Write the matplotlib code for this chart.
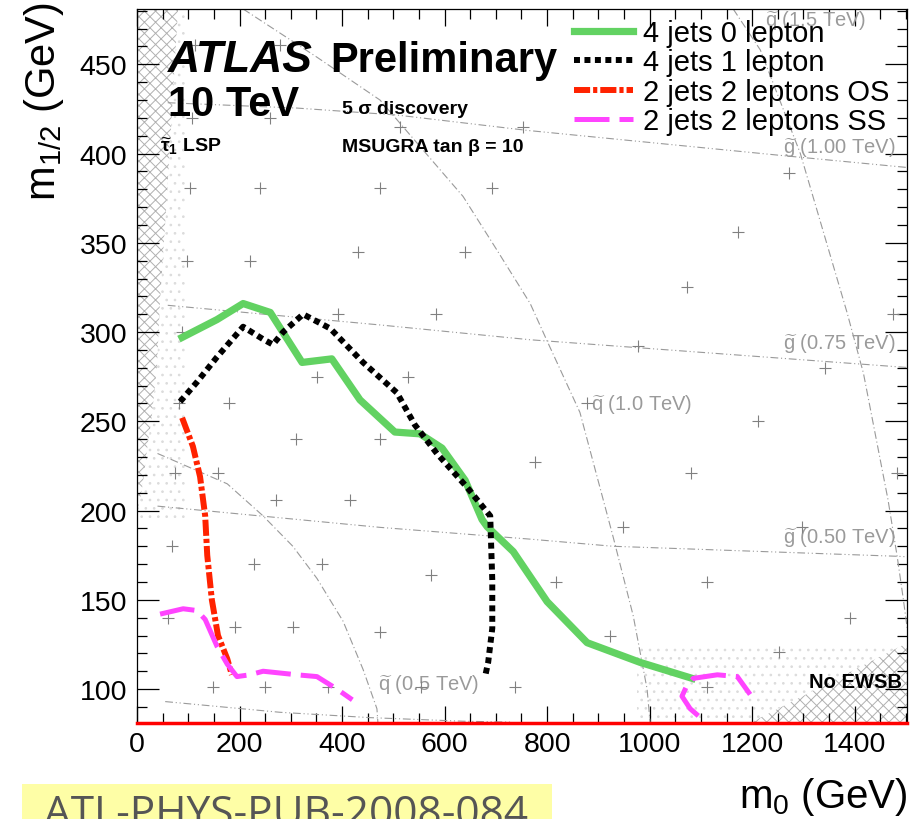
import matplotlib
matplotlib.use("Agg")
import matplotlib.pyplot as plt
from matplotlib.ticker import MultipleLocator
from matplotlib.patches import Rectangle

plt.rcParams['font.family'] = ['Liberation Sans', 'DejaVu Sans']
plt.rcParams['mathtext.fontset'] = 'custom'
plt.rcParams['mathtext.rm'] = 'Liberation Sans'
plt.rcParams['mathtext.it'] = 'Liberation Sans:italic'
plt.rcParams['mathtext.bf'] = 'Liberation Sans:bold'
plt.rcParams['mathtext.default'] = 'regular'
plt.rcParams['hatch.linewidth'] = 0.7

# 5 sigma discovery contours, m0 / m1/2 in GeV
m0_4j0l = [88, 156, 207, 260, 322, 380, 435, 503, 552, 595, 640, 673, 683, 734, 800, 878, 981, 1083]
m12_4j0l = [297, 307, 316, 311, 283, 285, 262, 244, 243, 235, 217, 195, 191, 177, 149, 126, 115, 106]

m0_4j1l = [84, 117, 156, 207, 246, 265, 285, 324, 377, 441, 507, 542, 585, 644, 689, 693, 693, 685, 679]
m12_4j1l = [261, 272, 286, 303, 296, 293, 300, 310, 302, 283, 266, 248, 232, 213, 197, 161, 134, 115, 107]

m0_2j2l_os = [88, 109, 123, 133, 137, 146, 158, 176, 185]
m12_2j2l_os = [252, 236, 219, 197, 175, 150, 130, 117, 108]

m0_2j2l_ss_a = [45, 90, 117, 133, 156, 176, 195, 220, 246, 312, 351, 390, 420]
m12_2j2l_ss_a = [142, 145, 144, 139, 124, 114, 107, 108, 110, 108, 107, 100, 94]
m0_2j2l_ss_b = [1095, 1079, 1063, 1071, 1085, 1132, 1171, 1196]
m12_2j2l_ss_b = [85, 89, 96, 101, 106, 108, 107, 97]

# squark / gluino iso-mass lines
sq05_m0 = [40, 64, 176, 246, 304, 351, 402, 441, 468, 470]
sq05_m12 = [232, 229, 215, 197, 180, 162, 138, 111, 89, 81]
sq10_m0 = [207, 351, 474, 636, 702, 767, 800, 864, 929, 968, 995, 1001]
sq10_m12 = [481, 454, 430, 376, 346, 316, 295, 255, 185, 141, 100, 81]
sq15_m0 = [1163, 1216, 1294, 1385, 1417, 1465, 1483, 1495, 1508]
sq15_m12 = [481, 458, 400, 311, 277, 206, 174, 150, 122]

gl025_m0 = [55, 279, 455, 636, 728]
gl025_m12 = [93, 87, 84, 82, 81.5]
gl050_m0 = [40, 474, 767, 929, 1483, 1510]
gl050_m12 = [202.5, 190.6, 184, 180, 174.4, 174]
gl075_m0 = [60, 474, 767, 1510]
gl075_m12 = [315, 304, 295.7, 280]
gl100_m0 = [60, 312, 507, 761, 1255, 1510]
gl100_m12 = [428.5, 425.5, 421.6, 413, 399, 392]

iso_labels = [r'$\widetilde{q}$ (0.5 TeV)', r'$\widetilde{q}$ (1.0 TeV)', r'$\widetilde{q}$ (1.5 TeV)',
              r'$\widetilde{g}$ (0.50 TeV)', r'$\widetilde{g}$ (0.75 TeV)', r'$\widetilde{g}$ (1.00 TeV)']
iso_label_m0 = [470, 885, 1225, 1260, 1260, 1260]
iso_label_m12 = [102.5, 259.4, 474.5, 185, 294, 403.7]

# scan points
scan_m0 = [113, 279, 107, 259, 513, 753, 1272, 103, 240, 474, 693, 1173, 431, 640, 98, 220,
           1073, 392, 583, 1475, 88, 978, 1342, 351, 529, 82, 180, 878, 1212, 310, 474, 777,
           74, 158, 1081, 1483, 271, 416, 948, 1298, 68, 228, 361, 574, 818, 1112, 60, 1391,
           191, 304, 474, 923, 1253, 148, 250, 373, 554, 738, 1112]
scan_m12 = [461, 461, 420, 420, 415, 415, 389, 381, 381, 381, 381, 356, 345, 345, 340, 340,
            325, 310, 310, 310, 300, 292, 280, 275, 275, 260, 260, 260, 250, 240, 240, 227,
            221, 221, 221, 221, 206, 206, 191, 191, 180, 170, 170, 164, 160, 160, 140, 140,
            135, 135, 132, 130, 121, 101, 101, 101, 101, 101, 101]

# excluded regions
stau_m0 = [0, 80, 58, 45, 39, 29, 19.5, 12, 5, 0]
stau_m12 = [481, 481, 374, 318, 281, 253, 234, 216, 205, 200]
ewsb_m0 = [1196, 1510, 1510]
ewsb_m12 = [81, 81, 127]

W, H = 910, 820
fig = plt.figure(figsize=(W / 100, H / 100), dpi=100)
ax = fig.add_axes([137 / W, (H - 724) / H, 770 / W, 714 / H])
ax.set_xlim(0, 1502)
ax.set_ylim(81, 481)

# light dotted bands and hatched regions
ax.fill([0, 95, 95, 0], [481, 481, 195, 195], facecolor='none', edgecolor='#dcdcdc',
        hatch='..', linewidth=0, zorder=0)
ax.fill([975, 1510, 1510, 975], [81, 81, 124, 124], facecolor='none', edgecolor='#dcdcdc',
        hatch='..', linewidth=0, zorder=0)
ax.fill(stau_m0, stau_m12, facecolor='white', edgecolor='#b0b0b0', hatch='xxx',
        linewidth=0, zorder=1)
ax.fill(ewsb_m0, ewsb_m12, facecolor='white', edgecolor='#b0b0b0', hatch='xxx',
        linewidth=0, zorder=1)

grey = '#9a9a9a'
for xs, ys in [(sq05_m0, sq05_m12), (sq10_m0, sq10_m12), (sq15_m0, sq15_m12)]:
    ax.plot(xs, ys, color=grey, lw=0.8, dashes=(7, 2.5, 1, 2.5), zorder=2)
for xs, ys in [(gl025_m0, gl025_m12), (gl050_m0, gl050_m12), (gl075_m0, gl075_m12),
               (gl100_m0, gl100_m12)]:
    ax.plot(xs, ys, color=grey, lw=0.8, dashes=(7, 2.5, 1, 2.5, 1, 2.5), zorder=2)

for lab, xl, yl in zip(iso_labels, iso_label_m0, iso_label_m12):
    ax.text(xl, yl, lab, color=grey, fontsize=14.5, va='center', ha='left', zorder=3,
            clip_on=True)

ax.plot(scan_m0, scan_m12, ls='none', marker='+', color='#808080', ms=8, mew=0.8, zorder=3)

green = '#62d262'
ax.plot(m0_4j0l, m12_4j0l, color=green, lw=5.2, solid_joinstyle='round',
        label='4 jets 0 lepton', zorder=5)
ax.plot(m0_4j1l, m12_4j1l, color='black', lw=4.3, dashes=(1, 0.75),
        label='4 jets 1 lepton', zorder=6)
ax.plot(m0_2j2l_os, m12_2j2l_os, color='#ff2200', lw=4.3, dashes=(2.7, 0.5, 0.7, 0.5),
        label='2 jets 2 leptons OS', zorder=6)
ax.plot(m0_2j2l_ss_a, m12_2j2l_ss_a, color='#ff44ff', lw=3.6, dashes=(7, 2),
        label='2 jets 2 leptons SS', zorder=6)
ax.plot(m0_2j2l_ss_b, m12_2j2l_ss_b, color='#ff44ff', lw=3.6, dashes=(7, 2), zorder=6)

# red line along the bottom axis
ax.axhline(81, color='#ff0000', lw=2.5, zorder=7, clip_on=False)

ax.legend(loc='upper left', bbox_to_anchor=(574 / W, 1 - 20 / H), bbox_transform=fig.transFigure,
          frameon=False, fontsize=21, handlelength=2.02, handletextpad=0.34,
          labelspacing=0.05, borderpad=0, borderaxespad=0)

ax.xaxis.set_major_locator(MultipleLocator(200))
ax.xaxis.set_minor_locator(MultipleLocator(50))
ax.yaxis.set_major_locator(MultipleLocator(50))
ax.yaxis.set_minor_locator(MultipleLocator(10))
ax.tick_params(which='both', direction='in', top=True, right=True, width=0.9, labelsize=20.5)
ax.tick_params(axis='x', which='major', length=12, pad=6)
ax.tick_params(axis='x', which='minor', length=7)
ax.tick_params(axis='y', which='major', length=16, pad=7)
ax.tick_params(axis='y', which='minor', length=7)
for s in ax.spines.values():
    s.set_linewidth(0.9)


def fpos(x, y):
    return x / W, 1 - y / H


fig.text(*fpos(168, 72), 'ATLAS', fontsize=32, fontweight='bold', fontstyle='italic', va='baseline')
fig.text(*fpos(330, 72), 'Preliminary', fontsize=30, fontweight='bold', va='baseline')
fig.text(*fpos(168, 116), '10 TeV', fontsize=30, fontweight='bold', va='baseline')
fig.text(*fpos(342, 114), '5 σ discovery', fontsize=14, fontweight='bold', va='baseline')
fig.text(*fpos(342, 152), 'MSUGRA tan β = 10', fontsize=14, fontweight='bold', va='baseline')
fig.text(*fpos(160, 152), r'$\widetilde{\tau}_1$ LSP', fontsize=14, fontweight='bold', va='baseline')
fig.text(*fpos(809, 688), 'No EWSB', fontsize=14.5, fontweight='bold', va='baseline')

fig.text(*fpos(44, 2), r'm$_{1/2}$ (GeV)', fontsize=30, rotation=90, ha='center', va='top')
fig.text(*fpos(908, 797), r'm$_0$ (GeV)', fontsize=29, ha='right', va='center')

fig.patches.append(Rectangle((22 / W, 0), 530 / W, 35 / H, transform=fig.transFigure,
                             facecolor='#fefea6', edgecolor='none', zorder=0))
fig.text(*fpos(44, 826), 'ATL-PHYS-PUB-2008-084', fontsize=30.5, color='#555555',
         family=['Open Sans', 'DejaVu Sans'], va='baseline')

fig.savefig('out.png', dpi=100)
